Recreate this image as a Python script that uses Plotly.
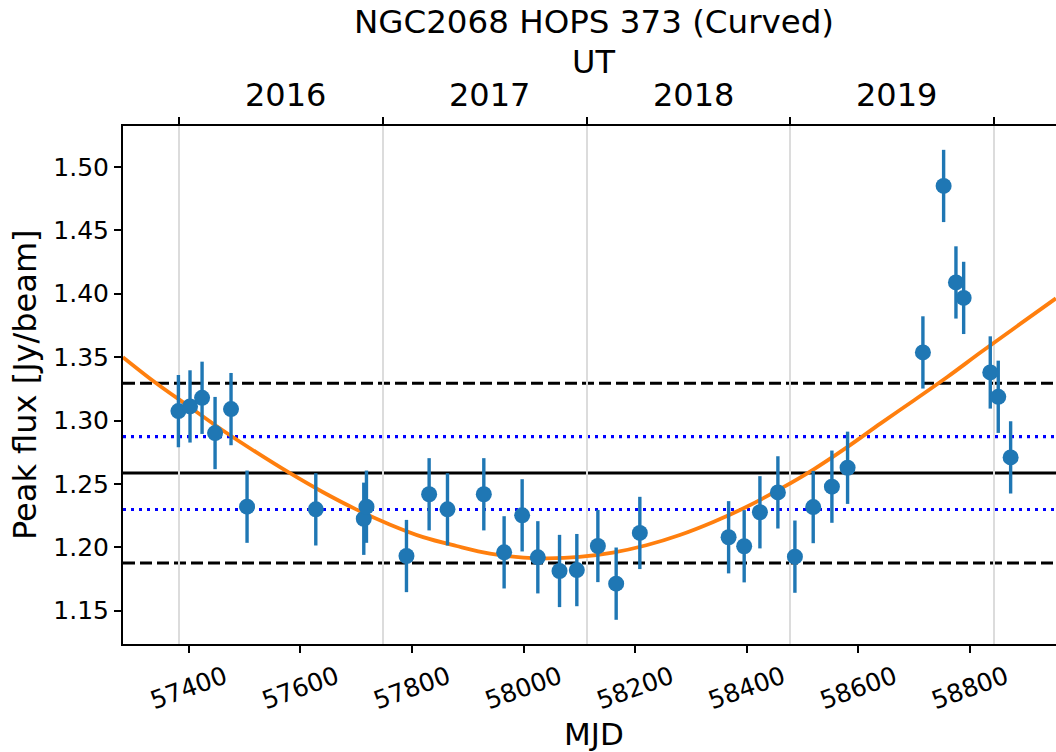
import plotly.graph_objects as go

# ---- data ----
mjd = [57381.5, 57402.3, 57423.9, 57447.2, 57475.8, 57504.5, 57627.7, 57713.7, 57718.5,
       57790.2, 57830.8, 57863.7, 57928.8, 57965.2, 57997.5, 58025.6, 58064.5, 58095.5,
       58133.2, 58166.0, 58208.4, 58367.5, 58395.4, 58423.6, 58455.8, 58486.3, 58519.1,
       58552.6, 58580.7, 58715.7, 58752.8, 58774.9, 58788.7, 58836.4, 58850.7, 58872.9]
flux = [1.3074, 1.3111, 1.3179, 1.2901, 1.3090, 1.2320, 1.2299, 1.2225, 1.2320,
        1.1931, 1.2418, 1.2299, 1.2418, 1.1960, 1.2252, 1.1921, 1.1813, 1.1820,
        1.2010, 1.1713, 1.2113, 1.2079, 1.2008, 1.2276, 1.2433, 1.1926, 1.2317,
        1.2478, 1.2627, 1.3537, 1.4850, 1.4089, 1.3967, 1.3379, 1.3187, 1.2709]
flux_err = [0.0285] * len(mjd)

curve_mjd = [57282, 57340, 57400, 57460, 57520, 57580, 57640, 57700, 57760, 57820,
             57880, 57940, 58000, 58042, 58100, 58160, 58220, 58280, 58340, 58400,
             58460, 58520, 58580, 58640, 58700, 58760, 58820, 58880, 58954]
curve_flux = [1.3500, 1.3300, 1.3112, 1.2925, 1.2752, 1.2588, 1.2436, 1.2299, 1.2180, 1.2080,
              1.2010, 1.1950, 1.1918, 1.1913, 1.1924, 1.1958, 1.2016, 1.2097, 1.2200, 1.2320,
              1.2460, 1.2615, 1.2790, 1.2977, 1.3160, 1.3345, 1.3540, 1.3730, 1.3963]

mean_level = 1.2585
sigma_levels = [1.2872, 1.2298]     # dotted blue
range_levels = [1.3293, 1.1876]     # dashed black

year_bounds = [57382.6, 57747.85, 58113.1, 58478.35, 58843.6]
year_labels = ["2016", "2017", "2018", "2019"]
year_label_pos = [57574, 57939, 58304, 58669]
mjd_ticks = [57400, 57600, 57800, 58000, 58200, 58400, 58600, 58800]
flux_ticks = [1.15, 1.20, 1.25, 1.30, 1.35, 1.40, 1.45, 1.50]

x_range = [57282.2, 58954.2]
y_range = [1.1237, 1.5323]

FONT = "DejaVu Sans"
BLUE = "#1f77b4"

fig = go.Figure()

fig.add_trace(go.Scatter(x=curve_mjd, y=curve_flux, mode="lines",
                         line=dict(color="#ff7f0e", width=3.8, shape="spline", smoothing=1.0),
                         showlegend=False, hoverinfo="skip"))

fig.add_trace(go.Scatter(x=mjd, y=flux, mode="markers",
                         marker=dict(color=BLUE, size=16),
                         error_y=dict(type="data", array=flux_err, color=BLUE,
                                      thickness=3.4, width=0),
                         showlegend=False))

# dummy trace to register the top axis
fig.add_trace(go.Scatter(x=[], y=[], xaxis="x2", yaxis="y", showlegend=False))

fig.add_hline(y=mean_level, line=dict(color="black", width=3), layer="below")
for v in sigma_levels:
    fig.add_hline(y=v, line=dict(color="#0000ff", width=3.2, dash="3px,5px"), layer="below")
for v in range_levels:
    fig.add_hline(y=v, line=dict(color="black", width=3, dash="12px,5px"), layer="below")

fig.update_layout(
    width=1056, height=752,
    margin=dict(l=123, r=0, t=126, b=108, pad=0, autoexpand=False),
    paper_bgcolor="white", plot_bgcolor="rgba(0,0,0,0)",
    font=dict(family=FONT, color="black"),
    xaxis=dict(range=x_range, tickvals=mjd_ticks, ticktext=[str(t) for t in mjd_ticks],
               tickangle=-20, ticks="outside", ticklen=7, tickwidth=2, tickcolor="black",
               tickfont=dict(size=25, family=FONT), showline=True, linewidth=2,
               linecolor="black", showgrid=False, zeroline=False, automargin=False,
               ticklabelshift=36,
               minor=dict(showgrid=True, tick0=year_bounds[0], dtick=365.25,
                          gridcolor="#dcdcdc", gridwidth=1.5, ticks="")),
    xaxis2=dict(range=x_range, overlaying="x", side="top", tickvals=year_bounds,
                showticklabels=False, ticks="outside", ticklen=7, tickwidth=2,
                tickcolor="black", showline=True, linewidth=2, linecolor="black",
                showgrid=False, zeroline=False, automargin=False),
    yaxis=dict(range=y_range, tickvals=flux_ticks, ticktext=[f"{t:.2f}" for t in flux_ticks],
               ticks="outside", ticklen=7, tickwidth=2, tickcolor="black",
               tickfont=dict(size=25, family=FONT), showline=True, linewidth=2,
               linecolor="black", showgrid=False, zeroline=False, automargin=False),
)

ann = [
    dict(text="NGC2068 HOPS 373 (Curved)", x=0.5048, y=1.2008, font=dict(size=32.5)),
    dict(text="UT", x=0.5048, y=1.1236, font=dict(size=32)),
    dict(text="MJD", x=0.5048, y=-0.174, font=dict(size=31)),
    dict(text="Peak flux [Jy/beam]", x=-0.105, y=0.5, textangle=-90, font=dict(size=32)),
]
for a in ann:
    fig.add_annotation(xref="paper", yref="paper", showarrow=False,
                       xanchor="center", yanchor="middle", **a)
for lbl, pos in zip(year_labels, year_label_pos):
    fig.add_annotation(text=lbl, x=pos, xref="x", y=1.0598, yref="paper", showarrow=False,
                       xanchor="center", yanchor="middle", font=dict(size=32))

fig.write_html("out.html", config={"displayModeBar": False},
               post_script="document.body.style.margin='0px';document.body.style.overflow='hidden';")
